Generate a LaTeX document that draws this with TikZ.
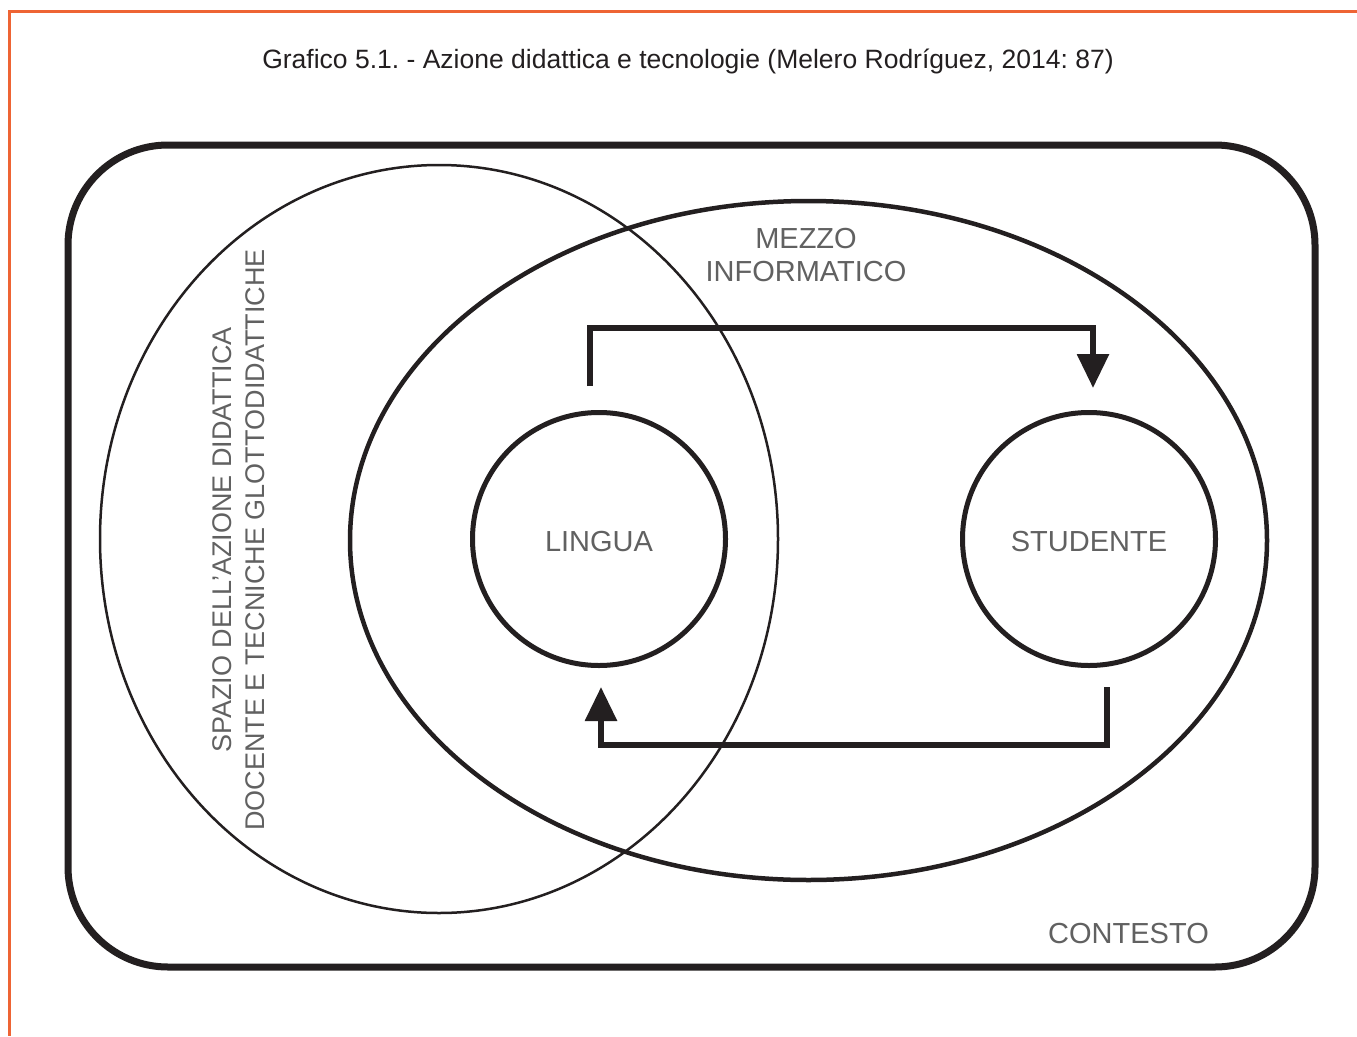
\documentclass[tikz,border=0pt]{standalone}
\usepackage{fontspec}
\setmainfont{Liberation Sans}
\usetikzlibrary{arrows.meta}
\usetikzlibrary{shapes.geometric}
\definecolor{frameorange}{RGB}{238,100,52}
\definecolor{ink}{RGB}{35,31,32}
\tikzstyle{caps}=[text=black!62,font=\fontsize{29}{33}\selectfont,inner sep=0pt]
\tikzstyle{roundnode}=[circle,draw=ink,line width=5pt,minimum size=253pt,inner sep=0pt]
\tikzstyle{flow}=[draw=ink,line width=6pt,-{Triangle[length=34pt,width=31pt]}]
\frenchspacing

\begin{document}
\begin{tikzpicture}[x=1pt,y=-1pt]
	\useasboundingbox (0,0) rectangle (1357,1036);
	\fill[white] (0,0) rectangle (1357,1036);
	\draw[frameorange,line width=3pt] (1357,11) -- (9.5,11) -- (9.5,1036);
	\node[text=ink,font=\fontsize{26.5}{30}\selectfont,inner sep=0pt] (title) at (688,61) {Grafico 5.1. - Azione didattica e tecnologie (Melero Rodríguez, 2014: 87)};
	% contesto
	\node[draw=ink,line width=7pt,rounded corners=100pt,minimum width=1247pt,minimum height=822pt] (frame) at (691.5,556) {};
	\node[caps,anchor=east] (contesto) at (1209,934) {CONTESTO};
	% spazio dell'azione didattica
	\node[ellipse,draw=ink,line width=2.5pt,minimum width=678pt,minimum height=748pt] (spazio) at (439,539) {};
	\node[caps,font=\fontsize{27}{33}\selectfont,rotate=90,align=center] (spaziotext) at (238.5,540) {SPAZIO DELL'AZIONE DIDATTICA\\DOCENTE E TECNICHE GLOTTODIDATTICHE};
	% mezzo informatico
	\node[ellipse,draw=ink,line width=4.5pt,minimum width=917pt,minimum height=679pt] (mezzo) at (808.5,540.5) {};
	\node[caps,align=center] (mezzotext) at (806,255) {MEZZO\\INFORMATICO};
	\node[roundnode] (lingua) at (599,539) {};
	\node[caps] (linguatext) at ([yshift=-3pt]lingua) {LINGUA};
	\node[roundnode] (studente) at (1089,539) {};
	\node[caps] (studentetext) at ([yshift=-3pt]studente) {STUDENTE};
	\draw[flow] ([xshift=-9pt,yshift=24pt]lingua.north) -- ++(0,-58) -| ([xshift=4pt,yshift=22pt]studente.north);
	\draw[flow] ([xshift=18pt,yshift=-19pt]studente.south) -- ++(0,58) -| ([xshift=2pt,yshift=-19pt]lingua.south);
\end{tikzpicture}
\end{document}
